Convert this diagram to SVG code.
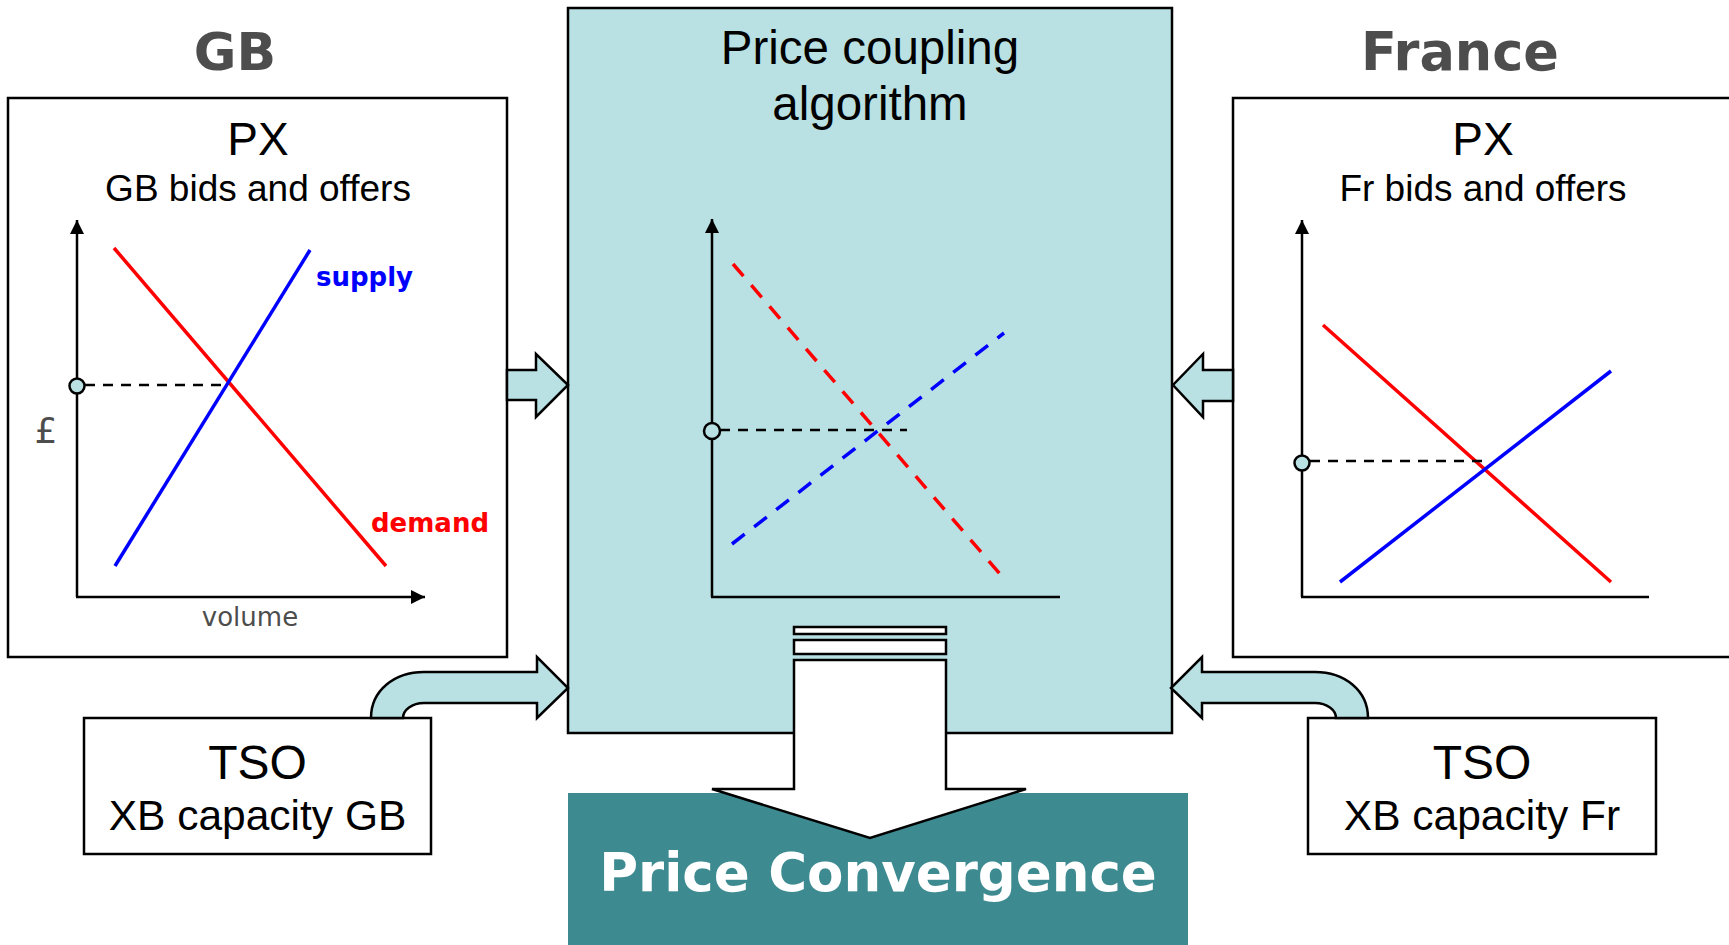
<svg xmlns="http://www.w3.org/2000/svg" width="1729" height="945" viewBox="0 0 1729 945">
<defs>
<style>
.box{fill:#fff;stroke:#000;stroke-width:2.5}
.teal{fill:#b9e0e3;stroke:#000;stroke-width:2.5}
.ax{stroke:#000;stroke-width:2.5;fill:none}
.red{stroke:#ff0000;stroke-width:3.5;fill:none}
.blue{stroke:#0000ff;stroke-width:3.5;fill:none}
.dash{stroke:#000;stroke-width:2.5;stroke-dasharray:10 8;fill:none}
.sans{font-family:"Liberation Sans",Arial,sans-serif;fill:#000;text-anchor:middle}
.ver{font-family:"DejaVu Sans",Verdana,sans-serif}
.pt{fill:#b9e0e3;stroke:#000;stroke-width:2.5}
</style>
<marker id="ah" viewBox="0 0 10 10" refX="10" refY="5" markerWidth="16" markerHeight="14" markerUnits="userSpaceOnUse" orient="auto">
<path d="M0,0 L10,5 L0,10 Z" fill="#000"/>
</marker>
</defs>
<rect width="1729" height="945" fill="#fff"/>

<g id="center">
<rect class="teal" x="568" y="8" width="604" height="725"/>
<text class="sans" x="870" y="64" font-size="47.5">Price coupling</text>
<text class="sans" x="870" y="120" font-size="47.5">algorithm</text>
<line class="ax" x1="712" y1="597" x2="712" y2="219" marker-end="url(#ah)"/>
<line class="ax" x1="711" y1="597" x2="1060" y2="597"/>
<line x1="733" y1="264" x2="1000" y2="574" stroke="#ff0000" stroke-width="3.5" stroke-dasharray="16 12"/>
<line x1="732" y1="544" x2="1004" y2="333" stroke="#0000ff" stroke-width="3.5" stroke-dasharray="16 12"/>
<line class="dash" x1="720" y1="430" x2="907" y2="430"/>
<circle cx="712" cy="431" r="8" fill="#b9e0e3" stroke="#000" stroke-width="2.5"/>
</g>

<g id="gb-px">
<text class="ver" x="235" y="70" font-size="52" font-weight="bold" fill="#4d4d4d" text-anchor="middle">GB</text>
<rect class="box" x="8" y="98" width="499" height="559"/>
<text class="sans" x="258" y="155" font-size="46">PX</text>
<text class="sans" x="258" y="201" font-size="37">GB bids and offers</text>
<line class="ax" x1="77" y1="597" x2="77" y2="220" marker-end="url(#ah)"/>
<line class="ax" x1="76" y1="597" x2="425" y2="597" marker-end="url(#ah)"/>
<line class="red" x1="114" y1="248" x2="386" y2="566"/>
<line class="blue" x1="115" y1="566" x2="310" y2="250"/>
<line class="dash" x1="85" y1="385" x2="229" y2="385"/>
<circle class="pt" cx="77" cy="386" r="7.5"/>
<text class="ver" x="316" y="286" font-size="26" font-weight="bold" fill="#0000ff">supply</text>
<text class="ver" x="371" y="532" font-size="26" font-weight="bold" fill="#ff0000">demand</text>
<text class="ver" x="46" y="443" font-size="36" fill="#4d4d4d" text-anchor="middle">£</text>
<text class="ver" x="250" y="626" font-size="26" fill="#4d4d4d" text-anchor="middle">volume</text>
</g>

<g id="fr-px">
<text class="ver" x="1460" y="70" font-size="52.5" font-weight="bold" fill="#4d4d4d" text-anchor="middle">France</text>
<rect class="box" x="1233" y="98" width="499" height="559"/>
<text class="sans" x="1483" y="155" font-size="46">PX</text>
<text class="sans" x="1483" y="201" font-size="37">Fr bids and offers</text>
<line class="ax" x1="1302" y1="597" x2="1302" y2="220" marker-end="url(#ah)"/>
<line class="ax" x1="1301" y1="597" x2="1649" y2="597"/>
<line class="red" x1="1323" y1="325" x2="1611" y2="582"/>
<line class="blue" x1="1340" y1="582" x2="1611" y2="371"/>
<line class="dash" x1="1310" y1="461" x2="1488" y2="461"/>
<circle class="pt" cx="1302" cy="463" r="7.5"/>
</g>

<g id="tso-gb">
<rect class="box" x="84" y="718" width="347" height="136"/>
<text class="sans" x="257.5" y="779" font-size="48">TSO</text>
<text class="sans" x="257.5" y="830" font-size="42.5">XB capacity GB</text>
</g>

<g id="tso-fr">
<rect class="box" x="1308" y="718" width="348" height="136"/>
<text class="sans" x="1482" y="779" font-size="48">TSO</text>
<text class="sans" x="1482" y="830" font-size="42.5">XB capacity Fr</text>
</g>

<g id="convergence">
<rect x="568" y="793" width="620" height="152" fill="#3d8b91"/>
<text class="ver" x="878" y="891" font-size="53" font-weight="bold" fill="#fff" text-anchor="middle">Price Convergence</text>
</g>

<g id="connectors">
<path class="teal" d="M507,370 L536,370 L536,354 L568,385 L536,417 L536,400 L507,400 Z"/>
<path class="teal" d="M1233,370 L1203,370 L1203,354 L1173,385 L1203,417 L1203,401 L1233,401 Z"/>
<path class="teal" d="M371,718 C371,690 395,672 424,672 L537,672 L537,657 L568,688 L537,718 L537,703 L424,703 C412,703 403,710 403,718 Z"/>
<path class="teal" d="M1368,718 C1368,690 1344,672 1315,672 L1202,672 L1202,657 L1171,688 L1202,718 L1202,703 L1315,703 C1327,703 1336,710 1336,718 Z"/>
<rect class="box" x="794" y="627" width="152" height="7"/>
<rect class="box" x="794" y="640" width="152" height="14"/>
<path class="box" d="M794,660 L946,660 L946,789 L1026,789 L870,838 L712,789 L794,789 Z"/>
</g>
</svg>
